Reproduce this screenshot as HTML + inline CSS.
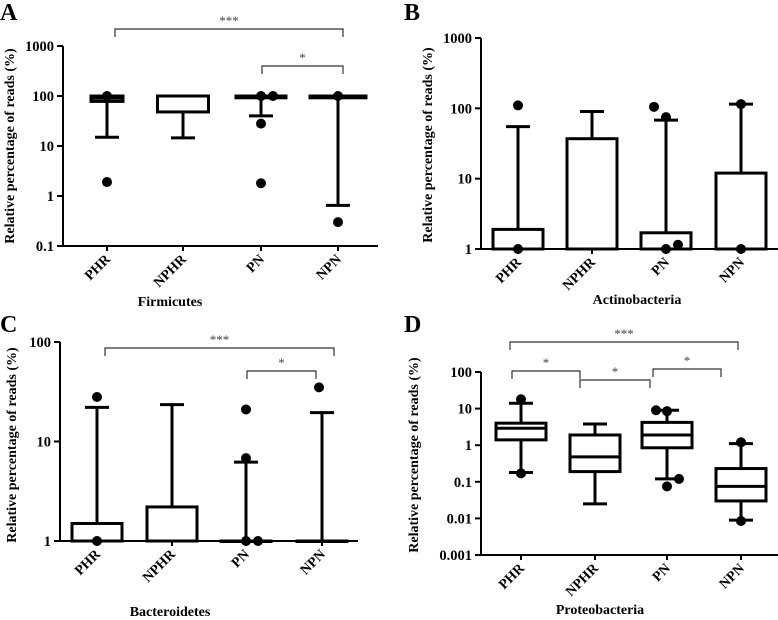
<!DOCTYPE html>
<html><head><meta charset="utf-8"><style>
body{margin:0;background:#fff}
svg{display:block;font-family:"Liberation Serif",serif;font-weight:bold}
</style></head><body>
<svg id="s" width="778" height="620" viewBox="0 0 778 620"></svg>
<script>
const cats=["PHR","NPHR","PN","NPN"];
// Panel A (Firmicutes): [q1, median, q3, whiskerLow, whiskerHigh]
const boxA=[[78,90,100,15,100],[48,100,100,14.5,100],[92,97,100,40,100],[92,97,100,0.65,100]];
const outA=[[[0,100],[0,1.9]],[],[[0,100],[12,100],[0,28],[0,1.8]],[[0,100],[0,0.3]]];
// Panel B (Actinobacteria)
const boxB=[[1,1,1.9,1,55],[1,1,37,1,90],[1,1,1.7,1,68],[1,1,12,1,115]];
const outB=[[[0,110],[0,1]],[],[[-12,105],[0,75],[0,1],[12,1.15]],[[0,115],[0,1]]];
// Panel C (Bacteroidetes)
const boxC=[[1,1,1.5,1,22],[1,1,2.2,1,23.5],[1,1,1,1,6.2],[1,1,1,1,19.5]];
const outC=[[[0,28],[0,1]],[],[[0,21],[0,6.8],[0,1],[12,1]],[[-3,35]]];
// Panel D (Proteobacteria)
const boxD=[[1.4,2.9,4,0.18,14],[0.19,0.48,1.9,0.025,3.8],[0.85,1.9,4.2,0.12,9],[0.03,0.075,0.23,0.009,1.1]];
const outD=[[[0,18],[0,0.17]],[],[[-11,9],[0,8.5],[0,0.075],[12,0.12]],[[0,1.2],[0,0.0085]]];

const svg=document.getElementById('s');const NS="http://www.w3.org/2000/svg";
function el(t,a,p){const e=document.createElementNS(NS,t);for(const k in a)e.setAttribute(k,a[k]);(p||svg).appendChild(e);return e;}
function panel(P){
  const g=el('g',{});
  
  
  const y=v=>P.yBot-(Math.log10(v)-P.lmin)/(P.lmax-P.lmin)*(P.yBot-P.yTop);
  const t=el('text',{x:P.lx,y:P.ly,'font-size':24},g);t.textContent=P.id;
  
  const ax=el('path',{d:`M${P.ax},${P.yTop}V${P.yBot}H${P.xEnd}`,stroke:'#000','stroke-width':2,fill:'none'},g);
  
  P.ticks.forEach(v=>{
    el('line',{x1:P.ax-6,x2:P.ax,y1:y(v),y2:y(v),stroke:'#000','stroke-width':2},g);
    const tl=el('text',{x:P.ax-9,y:y(v)+5,'font-size':14.5,'text-anchor':'end'},g);tl.textContent=v;
    
  });
  P.cx.forEach((cx,i)=>{
    el('line',{x1:cx,x2:cx,y1:P.yBot,y2:P.yBot+5,stroke:'#000','stroke-width':2},g);
    const tx=cx+4,ty=P.yBot+14;
    const cl=el('text',{x:tx,y:ty,'font-size':14,'text-anchor':'end',transform:`rotate(-45 ${tx} ${ty})`},g);cl.textContent=cats[i];
    
    const b=P.box[i],w=(P.bw[i]||50)/2,cw=P.cw;
    const bg=el('g',{stroke:'#000','stroke-width':3,fill:'none'},g);
    
    el('line',{x1:cx,x2:cx,y1:y(b[3]),y2:y(b[0])},bg);
    el('line',{x1:cx,x2:cx,y1:y(b[2]),y2:y(b[4])},bg);
    if(b[3]<b[0])el('line',{x1:cx-cw,x2:cx+cw,y1:y(b[3]),y2:y(b[3])},bg);
    if(b[4]>b[2])el('line',{x1:cx-cw,x2:cx+cw,y1:y(b[4]),y2:y(b[4])},bg);
    el('rect',{x:cx-w,y:y(b[2]),width:2*w,height:Math.max(0.5,y(b[0])-y(b[2])),fill:'#fff'},bg);
    el('line',{x1:cx-w,x2:cx+w,y1:y(b[1]),y2:y(b[1])},bg);
    P.out[i].forEach(o=>{
      const c=el('circle',{cx:cx+o[0],cy:y(o[1]),r:5,fill:'#000'},g);
      
    });
  });
  P.br.forEach(b=>{
    const p=el('path',{d:`M${b[0]},${b[2]+8}V${b[2]}H${b[1]}V${b[2]+8}`,stroke:'#333','stroke-width':1.2,fill:'none'},g);
    
    const s=el('text',{x:(b[0]+b[1])/2,y:b[2]-4,'font-size':13,'text-anchor':'middle',fill:'#444','font-weight':'normal'},g);s.textContent=b[3];
    
  });
  const yt=el('text',{x:P.ytx,y:P.yty,'font-size':14,'text-anchor':'middle',transform:`rotate(-90 ${P.ytx} ${P.yty})`},g);
  yt.textContent='Relative percentage of reads (%)';
  
  const xt=el('text',{x:P.xtx,y:P.xty,'font-size':14,'text-anchor':'middle'},g);xt.textContent=P.name;
  
}
panel({id:'A',name:'Firmicutes',lx:0,ly:20,ax:63,xEnd:378,yTop:46,yBot:246,lmin:-1,lmax:3,ticks:[1000,100,10,1,0.1],
 cx:[107,183,261,338],bw:[32,51,50,56],cw:12,box:boxA,out:outA,ytx:14,yty:146,xtx:170,xty:306,
 br:[[115,343,29,'***'],[262,343,66,'*']]});
panel({id:'B',name:'Actinobacteria',lx:404,ly:20,ax:481,xEnd:778,yTop:38,yBot:249,lmin:0,lmax:3,ticks:[1000,100,10,1],
 cx:[518,592,666,741],bw:[50,50,50,50],cw:12,box:boxB,out:outB,ytx:432,yty:145,xtx:637,xty:304,br:[]});
panel({id:'C',name:'Bacteroidetes',lx:0,ly:332,ax:60,xEnd:358,yTop:342,yBot:541,lmin:0,lmax:2,ticks:[100,10,1],
 cx:[97,172,246,322],bw:[50,50,50,50],cw:12,box:boxC,out:outC,ytx:16,yty:445,xtx:170,xty:616,
 br:[[105,334,348,'***'],[247,316,371,'*']]});
panel({id:'D',name:'Proteobacteria',lx:404,ly:332,ax:481,xEnd:778,yTop:372,yBot:555,lmin:-3,lmax:2,ticks:[100,10,1,0.1,0.01,0.001],
 cx:[521,595,667,741],bw:[50,50,50,50],cw:12,box:boxD,out:outD,ytx:418,yty:455,xtx:600,xty:614,
 br:[[510,738,342,'***'],[512,580,371,'*'],[580,650,380,'*'],[653,721,369,'*']]});
</script>
</body></html>
